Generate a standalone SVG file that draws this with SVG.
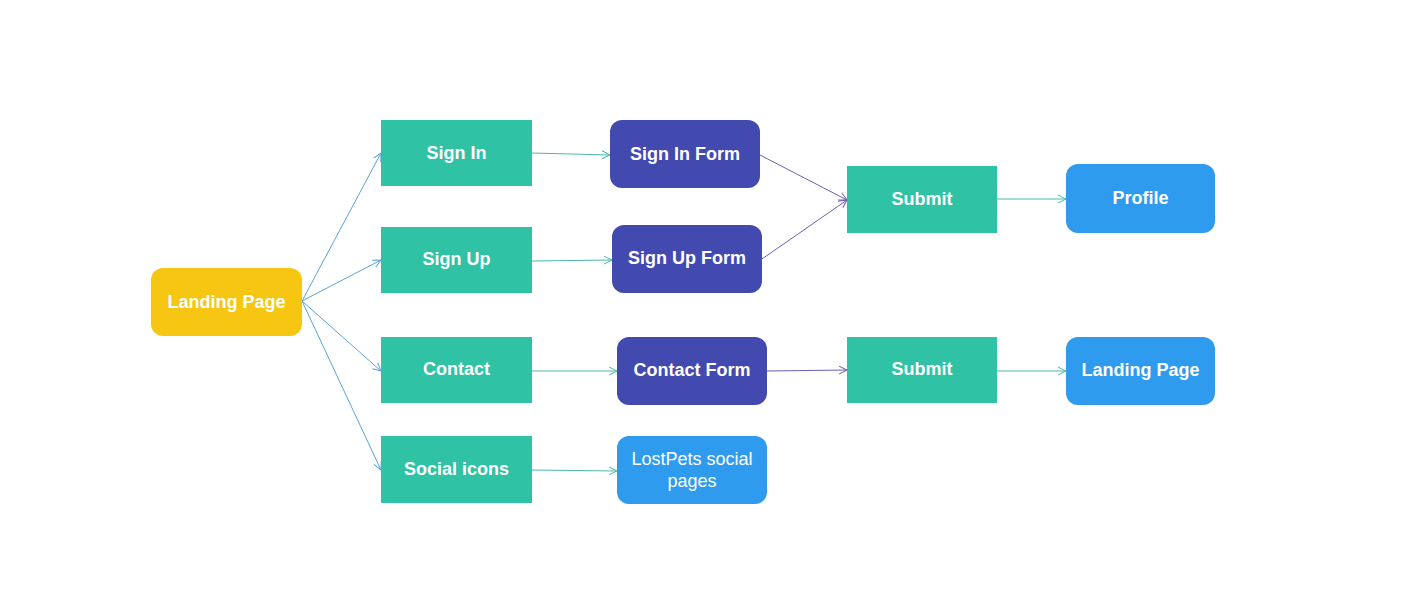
<svg xmlns="http://www.w3.org/2000/svg" width="1401" height="604" viewBox="0 0 1401 604">
<defs>
<style>
.t{font-family:"Liberation Sans",Arial,sans-serif;font-size:18px;font-weight:bold;fill:#ffffff;text-anchor:middle}
.n{font-weight:normal}
.g{fill:#30c2a4}
.d{fill:#424aaf}
.y{fill:#f7c613}
.b{fill:#2f9bee}
.c{fill:none;stroke-width:1}
.cb{stroke:#5aa3dc}
.ct{stroke:#4ab8a8}
.cp{stroke:#6a60b2}
</style>
<marker id="ab" markerWidth="10" markerHeight="10" refX="9" refY="5" orient="auto" markerUnits="userSpaceOnUse"><path d="M1,1 L9,5 L1,9" fill="none" stroke="#5aa3dc" stroke-width="1"/></marker>
<marker id="at" markerWidth="10" markerHeight="10" refX="9" refY="5" orient="auto" markerUnits="userSpaceOnUse"><path d="M1,1 L9,5 L1,9" fill="none" stroke="#4ab8a8" stroke-width="1"/></marker>
<marker id="ap" markerWidth="10" markerHeight="10" refX="9" refY="5" orient="auto" markerUnits="userSpaceOnUse"><path d="M1,1 L9,5 L1,9" fill="none" stroke="#6a60b2" stroke-width="1"/></marker>
</defs>
<rect width="1401" height="604" fill="#ffffff"/>
<g id="connectors">
<line class="c cb" x1="302" y1="301" x2="381" y2="153" marker-end="url(#ab)"/>
<line class="c cb" x1="302" y1="301" x2="381" y2="260" marker-end="url(#ab)"/>
<line class="c cb" x1="302" y1="301" x2="381" y2="371" marker-end="url(#ab)"/>
<line class="c cb" x1="302" y1="301" x2="381" y2="470" marker-end="url(#ab)"/>
<line class="c ct" x1="532" y1="153" x2="610" y2="155" marker-end="url(#at)"/>
<line class="c ct" x1="532" y1="261" x2="612" y2="260" marker-end="url(#at)"/>
<line class="c ct" x1="532" y1="371" x2="617" y2="371" marker-end="url(#at)"/>
<line class="c ct" x1="532" y1="470" x2="617" y2="471" marker-end="url(#at)"/>
<line class="c cp" x1="760" y1="155" x2="847" y2="200" marker-end="url(#ap)"/>
<line class="c cp" x1="762" y1="259" x2="847" y2="200" marker-end="url(#ap)"/>
<line class="c cp" x1="767" y1="371" x2="847" y2="370" marker-end="url(#ap)"/>
<line class="c ct" x1="997" y1="199" x2="1066" y2="199" marker-end="url(#at)"/>
<line class="c ct" x1="997" y1="371" x2="1066" y2="371" marker-end="url(#at)"/>
</g>
<g id="landing"><rect class="y" x="151" y="268" width="151" height="68" rx="12"/><text class="t" x="226.5" y="308">Landing Page</text></g>
<g id="signin"><rect class="g" x="381" y="120" width="151" height="66"/><text class="t" x="456.5" y="158.5">Sign In</text></g>
<g id="signup"><rect class="g" x="381" y="227" width="151" height="66"/><text class="t" x="456.5" y="265">Sign Up</text></g>
<g id="contact"><rect class="g" x="381" y="337" width="151" height="66"/><text class="t" x="456.5" y="375">Contact</text></g>
<g id="social"><rect class="g" x="381" y="436" width="151" height="67"/><text class="t" x="456.5" y="475">Social icons</text></g>
<g id="signinform"><rect class="d" x="610" y="120" width="150" height="68" rx="12"/><text class="t" x="685" y="159.5">Sign In Form</text></g>
<g id="signupform"><rect class="d" x="612" y="225" width="150" height="68" rx="12"/><text class="t" x="687" y="264">Sign Up Form</text></g>
<g id="contactform"><rect class="d" x="617" y="337" width="150" height="68" rx="12"/><text class="t" x="692" y="376">Contact Form</text></g>
<g id="lostpets"><rect class="b" x="617" y="436" width="150" height="68" rx="12"/><text class="t n" x="692" y="465">LostPets social</text><text class="t n" x="692" y="487">pages</text></g>
<g id="submit1"><rect class="g" x="847" y="166" width="150" height="67"/><text class="t" x="922" y="205">Submit</text></g>
<g id="profile"><rect class="b" x="1066" y="164" width="149" height="69" rx="12"/><text class="t" x="1140.5" y="204">Profile</text></g>
<g id="submit2"><rect class="g" x="847" y="337" width="150" height="66"/><text class="t" x="922" y="375">Submit</text></g>
<g id="landing2"><rect class="b" x="1066" y="337" width="149" height="68" rx="12"/><text class="t" x="1140.5" y="376">Landing Page</text></g>
</svg>
